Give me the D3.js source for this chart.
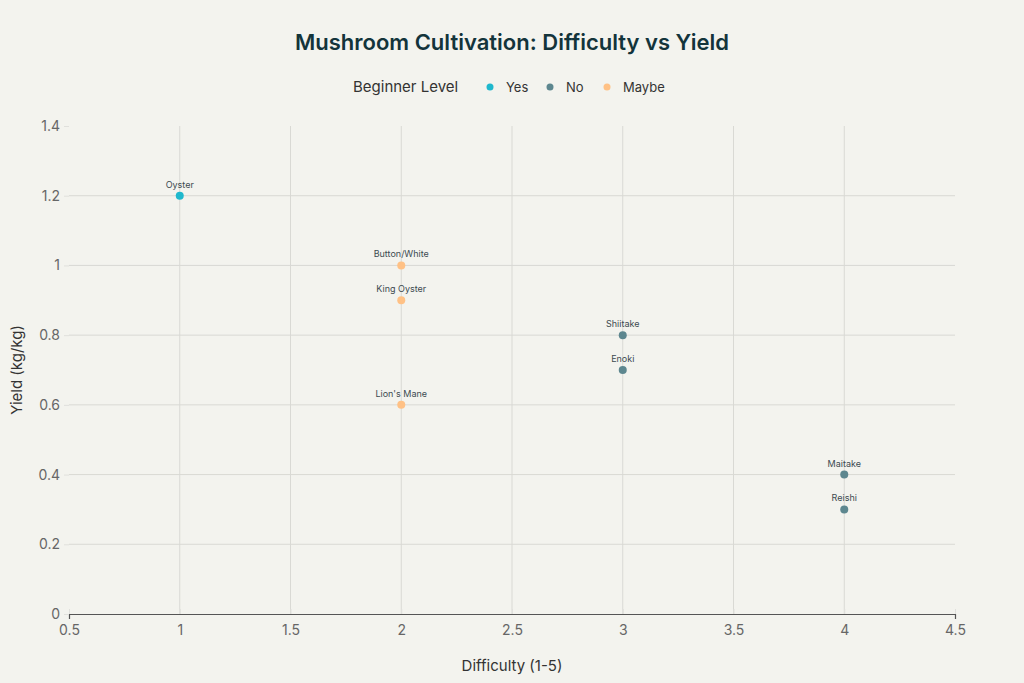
<!DOCTYPE html>
<html>
<head>
<meta charset="utf-8">
<script src="https://cdn.jsdelivr.net/npm/d3@7"></script>
<style>
  body { margin: 0; background: #F3F3EE; }
  text { font-family: Inter, "Noto Sans", sans-serif; }
</style>
</head>
<body>
<div id="chart"></div>
<script>
// data
const names = ["Oyster", "Button/White", "King Oyster", "Lion's Mane", "Shiitake", "Enoki", "Maitake", "Reishi"];
const difficulty = [1, 2, 2, 2, 3, 3, 4, 4];
const yieldVals = [1.2, 1.0, 0.9, 0.6, 0.8, 0.7, 0.4, 0.3];
const beginner = ["Yes", "Maybe", "Maybe", "Maybe", "No", "No", "No", "No"];
const levels = ["Yes", "No", "Maybe"];
const levelColors = ["#1FB8CD", "#5D878F", "#FFC185"];
const xTicks = [0.5, 1, 1.5, 2, 2.5, 3, 3.5, 4, 4.5];
const yTicks = [0, 0.2, 0.4, 0.6, 0.8, 1, 1.2, 1.4];

const W = 1024, H = 683;
const margin = { top: 126, right: 69, bottom: 69, left: 69 },
    width = W - margin.left - margin.right,
    height = H - margin.top - margin.bottom;

const root = d3.select("#chart").append("svg")
    .attr("width", W)
    .attr("height", H)
    .style("background", "#F3F3EE");

const svg = root.append("g")
    .attr("transform", `translate(${margin.left}, ${margin.top})`);

const x = d3.scaleLinear().domain([0.5, 4.5]).range([0, width]);
const y = d3.scaleLinear().domain([0, 1.4]).range([height, 0]);
const color = d3.scaleOrdinal().domain(levels).range(levelColors);

// grid (inner ticks only)
svg.append("g")
    .selectAll("line")
    .data(xTicks.slice(1, -1))
    .join("line")
    .attr("x1", d => x(d)).attr("x2", d => x(d))
    .attr("y1", 0).attr("y2", height)
    .attr("stroke", "#d9d9d4")
    .attr("stroke-width", 1);

svg.append("g")
    .selectAll("line")
    .data(yTicks.slice(1, -1))
    .join("line")
    .attr("x1", 0).attr("x2", width)
    .attr("y1", d => y(d)).attr("y2", d => y(d))
    .attr("stroke", "#d9d9d4")
    .attr("stroke-width", 1);

// axes
const xAxis = svg.append("g")
    .attr("transform", `translate(0, ${height})`)
    .call(d3.axisBottom(x).tickValues(xTicks).tickSize(5).tickPadding(6).tickFormat(d3.format("")));
xAxis.select(".domain").attr("stroke", "#555").attr("stroke-width", 1.2);
xAxis.selectAll(".tick line").attr("stroke", "#e0e0dc").attr("y1", -5).attr("y2", 0);
xAxis.selectAll("text").style("font-size", "14px").attr("fill", "#666");

const yAxis = svg.append("g")
    .call(d3.axisLeft(y).tickValues(yTicks).tickSize(5).tickPadding(4).tickFormat(d3.format("")));
yAxis.select(".domain").remove();
yAxis.selectAll(".tick line").attr("stroke", "#e0e0dc");
yAxis.selectAll("text").style("font-size", "14px").attr("fill", "#666");

// points
const pts = names.map((n, i) => ({ name: n, x: difficulty[i], y: yieldVals[i], level: beginner[i] }));

svg.selectAll("circle.pt")
    .data(pts)
    .join("circle")
    .attr("class", "pt")
    .attr("cx", d => x(d.x))
    .attr("cy", d => y(d.y))
    .attr("r", 4)
    .attr("fill", d => color(d.level));

svg.selectAll("text.lbl")
    .data(pts)
    .join("text")
    .attr("class", "lbl")
    .attr("x", d => x(d.x))
    .attr("y", d => y(d.y) - 8)
    .attr("text-anchor", "middle")
    .style("font-size", "9px")
    .attr("fill", "#3c4a50")
    .text(d => d.name);

// titles
root.append("text")
    .attr("x", W / 2)
    .attr("y", 50)
    .attr("text-anchor", "middle")
    .style("font-size", "22px")
    .style("font-weight", "600")
    .attr("fill", "#13343B")
    .text("Mushroom Cultivation: Difficulty vs Yield");

root.append("text")
    .attr("x", W / 2)
    .attr("y", 671)
    .attr("text-anchor", "middle")
    .style("font-size", "15px")
    .attr("fill", "#333")
    .text("Difficulty (1-5)");

root.append("text")
    .attr("transform", `translate(22, ${margin.top + height / 2}) rotate(-90)`)
    .attr("text-anchor", "middle")
    .style("font-size", "15px")
    .attr("fill", "#333")
    .text("Yield (kg/kg)");

// legend
const legend = root.append("g").attr("transform", "translate(353, 92)");
legend.append("text")
    .attr("x", 0).attr("y", 0)
    .style("font-size", "15px")
    .attr("fill", "#333")
    .text("Beginner Level");

const legX = [137, 197, 254];
levels.forEach((lv, i) => {
    legend.append("circle")
        .attr("cx", legX[i]).attr("cy", -5)
        .attr("r", 3.5)
        .attr("fill", color(lv));
    legend.append("text")
        .attr("x", legX[i] + 16).attr("y", 0)
        .style("font-size", "13px")
        .attr("fill", "#333")
        .text(lv);
});
</script>
</body>
</html>
